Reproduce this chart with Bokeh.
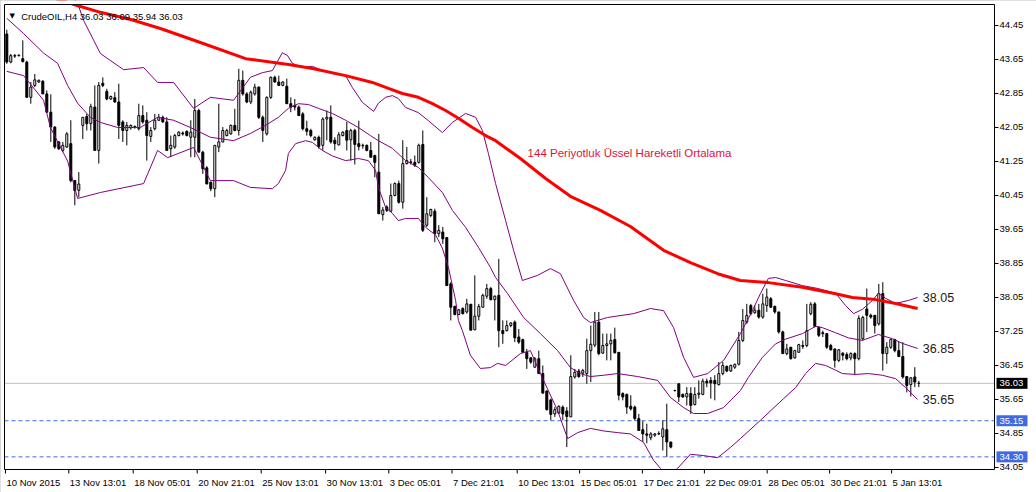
import numpy as np
from bokeh.plotting import figure
from bokeh.models import Label, ColumnDataSource
from bokeh.embed import file_html
from bokeh.resources import INLINE

# ---------------- data ----------------
symbol = "CrudeOIL,H4"

opens = [44.25, 43.59, 43.74, 43.74, 43.67, 43.59, 42.76, 43.04, 43.12, 43.14,
         42.84, 42.41, 42.06, 41.71, 41.51, 41.59, 41.67, 40.80, 40.57, 42.10,
         42.31, 42.14, 42.53, 41.51, 43.09, 42.90, 42.72, 42.75, 42.65, 42.18,
         41.98, 42.04, 42.06, 42.02, 42.33, 42.22, 41.84, 42.02, 42.22, 42.29,
         42.18, 41.55, 41.59, 41.86, 41.92, 41.96, 41.82, 41.82, 42.45, 41.47,
         41.10, 40.76, 40.61, 41.59, 41.71, 41.86, 41.90, 42.10, 41.98, 43.16,
         42.84, 42.65, 42.84, 43.00, 42.29, 41.90, 42.76, 43.23, 43.12, 43.04,
         43.02, 42.61, 42.57, 42.53, 42.37, 42.02, 41.98, 41.76, 41.82, 41.63,
         42.25, 42.29, 41.75, 41.64, 41.86, 41.98, 41.76, 41.98, 41.67, 41.63,
         41.63, 41.51, 41.39, 41.00, 40.00, 40.18, 40.08, 40.45, 40.73, 40.29,
         41.20, 41.24, 41.23, 41.23, 41.65, 39.75, 39.98, 40.08, 39.55, 39.59,
         39.46, 38.37, 37.84, 37.65, 37.79, 37.71, 37.89, 37.29, 37.61, 37.82,
         38.08, 38.26, 38.00, 38.10, 37.27, 37.27, 37.39, 37.47, 37.12, 37.06,
         36.76, 36.63, 36.41, 36.61, 36.26, 35.85, 35.64, 35.31, 35.33, 35.47,
         35.38, 35.24, 36.18, 36.32, 36.27, 36.26, 36.80, 36.93, 37.47, 36.74,
         36.92, 36.96, 37.06, 36.76, 35.79, 35.77, 35.49, 35.47, 35.20, 34.94,
         34.84, 34.75, 34.81, 34.85, 34.77, 34.94, 34.65, 35.86, 36.02, 35.77,
         35.71, 35.79, 35.53, 35.77, 35.77, 36.08, 36.10, 36.10, 36.00, 36.26,
         36.43, 36.32, 36.41, 36.48, 37.04, 37.47, 37.86, 37.69, 37.75, 37.59,
         37.86, 38.02, 37.84, 37.71, 37.24, 36.73, 36.88, 36.63, 36.76, 36.92,
         36.92, 37.67, 37.90, 37.35, 37.22, 37.20, 36.92, 36.84, 36.57, 36.74,
         36.71, 36.63, 36.73, 36.61, 37.08, 37.78, 37.63, 37.63, 37.43, 38.14,
         36.73, 36.88, 37.06, 36.80, 36.66, 36.19, 36.00, 36.18, 36.03]

highs = [44.35, 43.78, 43.78, 43.77, 44.10, 43.62, 43.12, 43.31, 43.18, 43.16,
         42.92, 42.83, 42.08, 41.73, 41.71, 41.94, 42.22, 40.82, 41.00, 42.29,
         42.37, 42.61, 43.04, 43.12, 43.23, 42.96, 42.80, 42.88, 43.08, 42.22,
         42.18, 42.12, 42.10, 42.61, 42.57, 42.41, 42.06, 42.37, 42.37, 42.33,
         42.29, 41.86, 41.90, 41.96, 41.96, 41.98, 42.22, 42.72, 42.49, 41.50,
         41.14, 40.78, 41.63, 42.61, 42.06, 42.02, 42.12, 42.49, 43.43, 43.39,
         42.88, 42.92, 43.08, 43.02, 42.33, 42.78, 43.25, 43.27, 43.27, 43.14,
         43.20, 42.76, 42.72, 42.57, 42.41, 42.21, 42.02, 41.84, 41.86, 42.29,
         42.45, 42.57, 41.82, 41.94, 41.96, 42.18, 42.02, 42.02, 42.21, 41.67,
         41.65, 41.71, 41.41, 41.90, 40.18, 40.22, 40.73, 40.76, 40.80, 41.75,
         41.59, 41.31, 41.39, 41.67, 41.98, 40.41, 40.14, 40.14, 39.75, 39.71,
         39.47, 38.41, 37.86, 37.78, 37.82, 38.02, 37.90, 38.57, 37.90, 38.14,
         38.37, 38.30, 38.10, 38.96, 37.51, 37.51, 37.47, 37.51, 37.31, 37.08,
         36.84, 36.65, 36.65, 36.80, 36.45, 35.86, 35.67, 35.47, 35.51, 35.51,
         35.47, 36.69, 36.37, 36.37, 36.37, 37.08, 37.39, 37.71, 37.71, 37.20,
         37.20, 37.20, 37.34, 36.76, 35.82, 35.79, 35.75, 35.51, 35.31, 35.14,
         35.08, 34.88, 34.86, 34.90, 35.16, 35.55, 34.65, 35.88, 36.02, 35.79,
         35.94, 35.94, 35.94, 36.10, 36.14, 36.14, 36.18, 36.22, 36.53, 36.53,
         36.45, 36.47, 36.49, 37.24, 37.78, 37.90, 37.90, 37.86, 37.90, 38.14,
         38.26, 38.06, 37.86, 37.71, 37.27, 36.96, 36.88, 36.82, 36.96, 37.04,
         37.90, 37.94, 37.94, 37.37, 37.27, 37.20, 36.96, 36.84, 36.84, 36.76,
         36.76, 36.76, 36.76, 37.63, 37.62, 38.26, 37.67, 37.63, 38.37, 38.41,
         37.00, 37.08, 37.08, 37.00, 37.00, 36.19, 36.18, 36.41, 36.09]

lows = [43.55, 43.56, 43.69, 43.72, 43.58, 42.75, 42.61, 43.00, 43.10, 42.84,
        42.40, 41.71, 41.55, 41.52, 41.47, 41.57, 40.76, 40.22, 40.41, 41.78,
        41.98, 41.98, 41.51, 41.20, 43.00, 42.69, 42.70, 42.63, 41.78, 41.71,
        41.63, 42.00, 42.02, 41.98, 42.14, 41.27, 41.71, 41.98, 42.20, 42.16,
        41.51, 41.35, 41.55, 41.84, 41.86, 41.84, 41.35, 41.35, 41.47, 40.96,
        40.72, 40.55, 40.41, 41.47, 41.70, 41.84, 41.88, 41.96, 41.86, 42.80,
        42.62, 42.60, 42.80, 42.25, 41.71, 41.86, 42.72, 43.10, 43.04, 43.02,
        42.61, 42.41, 42.45, 42.33, 41.98, 41.86, 41.82, 41.74, 41.55, 41.51,
        41.75, 41.67, 41.51, 41.63, 41.84, 41.51, 41.27, 41.18, 41.51, 41.55,
        41.49, 41.35, 40.88, 40.02, 39.86, 40.06, 40.06, 40.43, 40.26, 40.14,
        41.18, 41.18, 41.12, 41.20, 39.59, 39.71, 39.94, 39.35, 39.47, 39.31,
        38.33, 37.51, 37.63, 37.63, 37.65, 37.67, 37.28, 37.28, 37.51, 37.82,
        38.02, 37.98, 37.51, 36.88, 36.96, 37.25, 37.35, 37.00, 36.96, 36.76,
        36.37, 36.49, 36.40, 36.26, 35.79, 35.39, 35.16, 35.24, 35.31, 35.16,
        34.53, 35.24, 36.14, 36.16, 36.18, 36.02, 36.06, 36.88, 36.69, 36.73,
        36.57, 36.57, 36.73, 35.63, 35.63, 35.31, 35.39, 35.16, 34.92, 34.65,
        34.62, 34.69, 34.77, 34.81, 34.45, 34.30, 34.50, 35.84, 35.59, 35.69,
        35.51, 35.31, 35.51, 35.67, 35.75, 35.94, 35.67, 35.63, 35.98, 36.22,
        36.29, 36.30, 36.37, 36.45, 37.00, 37.43, 37.63, 37.67, 37.55, 37.55,
        37.71, 37.81, 37.67, 37.20, 36.73, 36.69, 36.59, 36.61, 36.76, 36.84,
        36.88, 37.63, 37.35, 37.12, 37.12, 36.84, 36.80, 36.40, 36.53, 36.57,
        36.57, 36.57, 36.22, 36.57, 37.04, 37.24, 37.55, 37.20, 37.39, 36.33,
        36.49, 36.84, 36.76, 36.65, 36.14, 35.82, 35.72, 35.94, 35.94]

closes = [43.59, 43.74, 43.73, 43.75, 43.60, 42.76, 43.00, 43.17, 43.16, 42.84,
          42.41, 42.06, 41.59, 41.55, 41.63, 41.90, 40.80, 40.57, 40.72, 42.29,
          42.14, 42.54, 41.51, 43.04, 43.04, 42.72, 42.78, 42.65, 42.10, 41.98,
          42.10, 42.10, 42.07, 42.33, 42.18, 41.86, 41.98, 42.22, 42.29, 42.18,
          41.51, 41.63, 41.86, 41.94, 41.90, 41.86, 41.94, 42.45, 41.47, 41.08,
          40.72, 40.61, 41.63, 41.71, 41.98, 41.98, 42.10, 41.98, 43.16, 42.84,
          42.65, 42.88, 43.00, 42.29, 41.98, 42.76, 43.23, 43.12, 43.04, 43.12,
          42.61, 42.53, 42.53, 42.33, 42.02, 41.96, 41.86, 41.82, 41.60, 42.25,
          42.29, 41.71, 41.67, 41.88, 41.94, 41.75, 41.98, 41.65, 41.60, 41.62,
          41.51, 41.35, 41.23, 40.02, 40.11, 40.10, 40.45, 40.73, 40.29, 41.20,
          41.27, 41.23, 41.16, 41.63, 39.63, 40.02, 40.12, 39.55, 39.63, 39.43,
          38.33, 37.82, 37.65, 37.76, 37.67, 37.90, 37.28, 37.61, 37.84, 38.10,
          38.26, 38.00, 38.08, 37.27, 37.20, 37.39, 37.45, 37.10, 37.00, 36.76,
          36.61, 36.53, 36.61, 36.26, 35.80, 35.41, 35.30, 35.41, 35.49, 35.31,
          35.25, 36.19, 36.29, 36.19, 36.33, 36.80, 36.95, 37.47, 36.73, 36.92,
          36.96, 37.04, 36.75, 35.75, 35.71, 35.47, 35.43, 35.20, 34.92, 34.84,
          34.81, 34.84, 34.84, 34.84, 34.96, 34.65, 34.53, 35.86, 35.71, 35.71,
          35.79, 35.51, 35.77, 35.80, 36.08, 36.04, 36.04, 36.02, 36.26, 36.45,
          36.32, 36.45, 36.48, 37.04, 37.51, 37.63, 37.67, 37.75, 37.59, 37.90,
          38.06, 37.82, 37.71, 37.24, 36.73, 36.84, 36.61, 36.80, 36.94, 36.90,
          37.27, 37.89, 37.37, 37.16, 37.20, 36.88, 36.82, 36.57, 36.82, 36.69,
          36.61, 36.73, 36.61, 37.56, 37.58, 37.63, 37.59, 37.39, 38.14, 36.73,
          36.88, 37.06, 36.80, 36.66, 36.18, 35.98, 36.16, 36.06, 36.03]

# 144-period EMA (bar index, price)
ema_x = [0, 17.6, 23.4, 31.0, 38.4, 48.4, 59.7, 70.4, 76.4, 84.7,
         91.4, 95.4, 98.9, 102.9, 106.4, 109.7, 113.0, 116.4, 119.7, 122.2,
         128.4, 134.7, 140.9, 148.4, 155.9, 164.2, 170.9, 177.7, 183.4, 190.4,
         198.9, 207.2, 211.4, 217.2, 222.2, 227.7]
ema_y = [45.45, 44.92, 44.76, 44.59, 44.38, 44.05, 43.67, 43.53, 43.44, 43.27,
         43.11, 42.97, 42.85, 42.76, 42.61, 42.45, 42.26, 42.05, 41.86, 41.74,
         41.32, 40.85, 40.43, 40.10, 39.72, 39.16, 38.87, 38.61, 38.45, 38.40,
         38.29, 38.14, 38.05, 38.00, 37.91, 37.79]

# Bollinger bands: upper
up_x = [0, 12, 17.9, 19.2, 23.4, 29.2, 34.2, 37.7, 41.7, 46.7,
        50.9, 56.7, 60.9, 63.9, 66.4, 68.9, 70.2, 71.4, 73.9, 76.4,
        78.9, 81.4, 84.7, 86.4, 88.9, 91.7, 92.9, 94.7, 96.4, 97.9,
        99.7, 102.9, 105.4, 108.9, 111.4, 114.7, 117.2, 118.9, 120.4, 122.2,
        124.7, 126.7, 128.9, 132.7, 135.9, 138.4, 141.7, 144.2, 145.9, 150.2,
        156.7, 160.9, 164.2, 166.7, 169.2, 171.7, 175.2, 179.2, 183.4, 186.4,
        188.4, 190.4, 192.2, 194.7, 198.9, 202.9, 207.2, 209.7, 211.7, 213.9,
        216.4, 217.9, 219.7, 222.2, 225.4, 227.7]
up_y = [46.6, 45.9, 44.92, 44.57, 43.79, 43.41, 43.46, 43.11, 43.11, 42.50,
        42.76, 42.69, 43.23, 43.34, 43.39, 43.81, 43.74, 43.56, 43.46, 43.49,
        43.39, 43.32, 43.27, 42.99, 42.64, 42.43, 42.62, 42.76, 42.80, 42.73,
        42.52, 42.40, 42.21, 41.93, 42.17, 42.38, 42.29, 41.98, 41.44, 40.73,
        39.86, 39.16, 38.45, 38.57, 38.73, 38.61, 37.98, 37.58, 37.46, 37.58,
        37.67, 37.79, 37.74, 37.34, 36.64, 36.17, 36.26, 36.57, 37.20, 37.74,
        38.14, 38.50, 38.52, 38.45, 38.33, 38.26, 38.15, 37.86, 37.67, 37.77,
        37.98, 38.15, 38.03, 37.91, 37.98, 38.05]

# middle
mid_x = [0, 4.2, 9.2, 12.7, 15.2, 17.7, 20.9, 23.4, 27.7, 33.4,
         37.7, 41.7, 45.9, 50.9, 56.7, 60.9, 64.7, 67.9, 70.4, 72.9,
         75.4, 77.9, 81.4, 84.7, 87.9, 90.9, 92.9, 96.4, 99.7, 102.9,
         105.4, 108.9, 111.4, 114.7, 117.9, 120.9, 122.2, 125.2, 129.2, 133.4,
         137.7, 140.9, 143.4, 145.9, 149.2, 152.7, 157.7, 162.7, 165.9, 169.2,
         171.7, 175.2, 179.2, 183.4, 185.4, 188.9, 192.2, 194.7, 198.9, 202.2,
         203.9, 207.2, 210.4, 213.9, 217.9, 221.4, 223.9, 227.7]
mid_y = [44.62, 44.26, 43.80, 43.56, 43.04, 42.62, 42.29, 42.17, 42.05, 42.05,
         42.29, 42.22, 42.05, 41.82, 41.74, 41.91, 42.10, 42.29, 42.50, 42.61,
         42.59, 42.50, 42.38, 42.22, 42.05, 41.86, 41.74, 41.56, 41.27, 41.11,
         40.87, 40.52, 40.10, 39.70, 39.23, 38.76, 38.52, 38.14, 37.58, 37.20,
         36.80, 36.40, 36.26, 36.19, 36.22, 36.26, 36.19, 36.10, 35.70, 35.46,
         35.32, 35.32, 35.46, 35.86, 36.17, 36.64, 36.96, 37.07, 37.20, 37.37,
         37.34, 37.22, 37.10, 37.04, 37.18, 37.08, 36.97, 36.85]

# lower
lo_x = [0, 4.2, 9.2, 10.9, 15.2, 17.7, 23.4, 34.2, 37.7, 40.2,
        46.7, 50.9, 56.7, 60.9, 66.4, 67.9, 69.7, 70.4, 72.2, 74.7,
        76.4, 78.9, 81.4, 84.7, 87.9, 90.4, 92.2, 92.9, 94.7, 96.4,
        97.9, 99.7, 102.9, 104.7, 107.2, 108.9, 110.4, 112.2, 112.9, 113.9,
        115.9, 118.4, 120.9, 122.7, 124.7, 128.4, 130.9, 133.4, 137.7, 140.2,
        142.7, 145.9, 149.2, 152.7, 155.9, 159.2, 161.7, 163.4, 165.2, 167.7,
        170.9, 174.2, 177.7, 180.9, 183.4, 188.4, 194.2, 197.2, 199.7, 202.2,
        204.7, 207.2, 208.9, 212.2, 215.4, 218.9, 222.2, 224.7, 227.7]
lo_y = [43.37, 43.27, 42.69, 42.05, 41.26, 40.38, 40.52, 40.73, 41.51, 41.34,
        41.58, 40.80, 40.80, 40.64, 40.61, 40.73, 41.04, 41.44, 41.67, 41.74,
        41.70, 41.51, 41.38, 41.27, 41.32, 41.27, 41.04, 40.64, 40.17, 40.03,
        39.86, 39.91, 39.91, 39.70, 39.52, 39.21, 38.76, 37.98, 37.51, 37.27,
        36.69, 36.38, 36.40, 36.50, 36.45, 36.73, 36.80, 36.26, 35.39, 34.73,
        34.87, 34.97, 34.91, 34.87, 34.84, 34.64, 34.22, 34.03, 33.84, 34.03,
        34.36, 34.33, 34.28, 34.52, 34.73, 35.16, 35.67, 35.93, 36.26, 36.50,
        36.45, 36.34, 36.26, 36.24, 36.26, 36.22, 36.14, 35.93, 35.65]

# horizontal levels
levels = [35.15, 34.30]

# axes
y_ticks = [34.05, 34.85, 35.65, 36.45, 37.25, 38.05, 38.85, 39.65,
           40.45, 41.25, 42.05, 42.85, 43.65, 44.45]
x_tick_pos = [-0.33, 15.5, 31.6, 47.6, 63.6, 79.7, 95.5, 111.3,
              127.6, 143.2, 158.9, 174.4, 190.1, 205.7, 221.2]
x_tick_labels = ["10 Nov 2015", "13 Nov 13:01", "18 Nov 05:01", "20 Nov 21:01",
                 "25 Nov 13:01", "30 Nov 13:01", "3 Dec 05:01", "7 Dec 21:01",
                 "10 Dec 13:01", "15 Dec 05:01", "17 Dec 21:01", "22 Dec 09:01",
                 "28 Dec 05:01", "30 Dec 21:01", "5 Jan 13:01"]

ema_text = "144 Periyotluk Üssel Hareketli Ortalama"

# ---------------- layout helpers ----------------
W, H = 1036, 492
BAR_PX = 4.0          # pixels per bar
PRICE_PX = 42.5       # pixels per price unit
X_START = -1.575      # bar value at the canvas' left edge
Y_END = 45.038        # price at the canvas' top edge
XR = (X_START, X_START + W / BAR_PX)
YR = (Y_END - H / PRICE_PX, Y_END)


def dx(px):
    return px / BAR_PX


def dy(px):
    return px / PRICE_PX


CH_L = X_START + dx(4)      # chart frame edges
CH_R = X_START + dx(994)
CH_T = Y_END - dy(4)
CH_B = Y_END - dy(469)

FONT = "Liberation Sans"

p = figure(width=W, height=H, x_range=XR, y_range=YR,
           x_axis_location=None, y_axis_location=None,
           output_backend="svg", toolbar_location=None,
           min_border=0, min_border_left=0, min_border_right=0,
           min_border_top=0, min_border_bottom=0,
           background_fill_color="white", border_fill_color="white")
p.grid.visible = False
p.outline_line_color = "#C8C8C8"
p.outline_line_width = 5

# level lines (under the candles)
p.segment(x0=[CH_L], y0=[closes[-1]], x1=[CH_R], y1=[closes[-1]],
          line_color="#C0C0C0", line_width=1)
p.segment(x0=[CH_L] * len(levels), y0=levels, x1=[CH_R] * len(levels), y1=levels,
          line_color="#4169E1", line_width=1, line_dash="4 3")

# candles
bars = list(range(len(opens)))
src = ColumnDataSource(dict(
    x=bars, o=opens, h=highs, l=lows, c=closes,
    top=[max(a, b) for a, b in zip(opens, closes)],
    bottom=[min(a, b) for a, b in zip(opens, closes)],
    fill=["white" if c >= o else "black" for o, c in zip(opens, closes)],
))
p.segment(x0="x", y0="l", x1="x", y1="h", source=src, line_color="black", line_width=1)
p.vbar(x="x", width=0.5, top="top", bottom="bottom", fill_color="fill",
       line_color="black", line_width=1, source=src)

# indicators
for xs, ys in ((up_x, up_y), (mid_x, mid_y), (lo_x, lo_y)):
    p.line(xs, ys, line_color="#800080", line_width=1)
p.line(ema_x, ema_y, line_color="#FF0000", line_width=3, line_join="round")

# white margins outside the chart frame
p.quad(left=[XR[0], CH_R, XR[0], XR[0]], right=[CH_L, XR[1], XR[1], XR[1]],
       bottom=[YR[0], YR[0], CH_T, YR[0]], top=[YR[1], YR[1], YR[1], CH_B],
       fill_color="white", line_color=None)

# chart frame
p.quad(left=[CH_L], right=[CH_R], bottom=[CH_B], top=[CH_T],
       fill_color=None, line_color="black", line_width=1)

# right price scale
p.segment(x0=[CH_R] * len(y_ticks), y0=y_ticks, x1=[CH_R + dx(4)] * len(y_ticks), y1=y_ticks,
          line_color="black", line_width=1)
for t in y_ticks:
    p.add_layout(Label(x=CH_R, y=t, x_offset=5, text=f"{t:.2f}", text_font=FONT,
                       text_font_size="9.5px", text_color="black",
                       text_align="left", text_baseline="middle"))

# time scale
p.segment(x0=x_tick_pos, y0=[CH_B] * len(x_tick_pos), x1=x_tick_pos,
          y1=[CH_B - dy(4)] * len(x_tick_pos), line_color="black", line_width=1)
for t, s in zip(x_tick_pos, x_tick_labels):
    p.add_layout(Label(x=t, y=CH_B, x_offset=1, y_offset=-13, text=s,
                       text_font=FONT, text_font_size="9.5px", text_color="black",
                       text_align="left", text_baseline="alphabetic"))

# price boxes on the scale
box_prices = [closes[-1]] + levels
box_colors = ["black"] + ["#4169E1"] * len(levels)
p.rect(x=[CH_R + dx(17.5)] * len(box_prices), y=box_prices, width=31, height=11,
       width_units="screen", height_units="screen",
       fill_color=box_colors, line_color=None)
for v in box_prices:
    p.add_layout(Label(x=CH_R, y=v, x_offset=5, text=f"{v:.2f}", text_font=FONT,
                       text_font_size="9.5px", text_color="white",
                       text_align="left", text_baseline="middle"))

# header
p.add_layout(Label(x=CH_L, y=CH_T, x_offset=5, y_offset=-11.5, text="▼",
                   text_font="DejaVu Sans", text_font_size="7px", text_color="black",
                   text_align="left", text_baseline="alphabetic"))
o, h, l, c = opens[-1], highs[-1], lows[-1], closes[-1]
p.add_layout(Label(x=CH_L, y=CH_T, x_offset=16.7, y_offset=-12,
                   text=f"{symbol}  {o:.2f} {h:.2f} {l:.2f} {c:.2f}",
                   text_font=FONT, text_font_size="9.5px", text_color="black",
                   text_align="left", text_baseline="alphabetic"))

# EMA annotation
p.add_layout(Label(x=130.2, y=41.46, text=ema_text, text_font=FONT,
                   text_font_size="11.5px", text_color="#DC143C",
                   text_align="left", text_baseline="middle"))

# band values at the right
for v in (up_y[-1], mid_y[-1], lo_y[-1]):
    p.add_layout(Label(x=229.0, y=v, text=f"{v:.2f}", text_font=FONT,
                       text_font_size="12.5px", text_color="#1a1a1a",
                       text_align="left", text_baseline="middle"))

open("out.html", "w").write(file_html(p, INLINE))
